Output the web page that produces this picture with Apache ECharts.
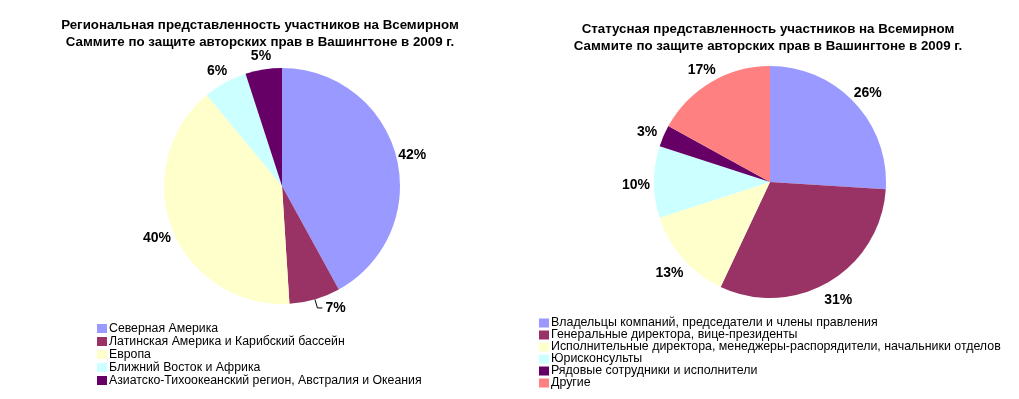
<!DOCTYPE html>
<html>
<head>
<meta charset="utf-8">
<script src="https://cdn.jsdelivr.net/npm/echarts@6/dist/echarts.min.js"></script>
<style>
  html, body { margin: 0; padding: 0; background: #fff; }
  #chart { width: 1019px; height: 399px; }
</style>
</head>
<body>
<div id="chart"></div>
<script>
// regional split (left pie)
const regionNames = [
	"Северная Америка",
	"Латинская Америка и Карибский бассейн",
	"Европа",
	"Ближний Восток и Африка",
	"Азиатско-Тихоокеанский регион, Австралия и Океания",
]
const regionValues = [42, 7, 40, 6, 5]

// status split (right pie)
const statusNames = [
	"Владельцы компаний, председатели и члены правления",
	"Генеральные директора, вице-президенты",
	"Исполнительные директора, менеджеры-распорядители, начальники отделов",
	"Юрисконсульты",
	"Рядовые сотрудники и исполнители",
	"Другие",
]
const statusValues = [26, 31, 13, 10, 3, 17]

const palette = ["#9999FF", "#993366", "#FFFFCC", "#CCFFFF", "#660066", "#FF8080"]
const font = "'Liberation Sans', Arial, sans-serif"

const chartInstance = echarts.init(document.getElementById("chart"))

// the one label that Excel pulled out with a leader line
const leaderIndex = 1

const mainData = (names, values, withLeader) =>
	names.map((n, i) => {
		let item = { name: n, value: values[i], itemStyle: { color: palette[i] } }
		if (withLeader && i === leaderIndex) {
			item.label = { show: true }
			item.labelLine = { show: true }
		}
		return item
	})

const labelData = (names, values, withLeader) =>
	names.map((n, i) => {
		let item = { name: n, value: values[i] }
		if (withLeader && i === leaderIndex) item.label = { show: false }
		return item
	})

const pieBase = (center, r, names, values, withLeader) => ({
	type: "pie",
	center: center,
	radius: r,
	startAngle: 90,
	clockwise: true,
	avoidLabelOverlap: false,
	silent: true,
	emphasis: { disabled: true },
	itemStyle: { borderWidth: 0 },
	label: {
		show: false,
		position: "outside",
		formatter: "{c}%",
		fontFamily: font,
		fontSize: 14,
		fontWeight: "bold",
		color: "#000",
		distanceToLabelLine: 3,
	},
	labelLine: {
		show: false,
		length: 9,
		length2: 5,
		smooth: false,
		lineStyle: { color: "#000", width: 1 },
	},
	data: mainData(names, values, withLeader),
})

// transparent ring that only carries the percentage labels
const labelRing = (center, r0, r1, names, values, withLeader) => ({
	type: "pie",
	center: center,
	radius: [r0, r1],
	startAngle: 90,
	clockwise: true,
	silent: true,
	emphasis: { disabled: true },
	itemStyle: { color: "rgba(0,0,0,0)", borderWidth: 0 },
	label: {
		show: true,
		position: "inside",
		formatter: "{c}%",
		fontFamily: font,
		fontSize: 14,
		fontWeight: "bold",
		color: "#000",
		offset: [0, 3],
	},
	labelLine: { show: false },
	data: labelData(names, values, withLeader),
})

const titleStyle = {
	fontFamily: font,
	fontSize: 13.3,
	fontWeight: "bold",
	color: "#000",
	lineHeight: 17,
}

const legendBase = {
	orient: "vertical",
	icon: "rect",
	itemWidth: 10,
	itemHeight: 9,
	itemGap: 0,
	padding: 0,
	selectedMode: false,
}

let options = {
	animation: false,
	backgroundColor: "#fff",
	title: [
		{
			text: "Региональная представленность участников на Всемирном\nСаммите по защите авторских прав в Вашингтоне в 2009 г.",
			left: 260,
			top: 17,
			textAlign: "center",
			padding: 0,
			textStyle: titleStyle,
		},
		{
			text: "Статусная представленность участников на Всемирном\nСаммите по защите авторских прав в Вашингтоне в 2009 г.",
			left: 768,
			top: 21,
			textAlign: "center",
			padding: 0,
			textStyle: titleStyle,
		},
	],
	legend: [
		{
			...legendBase,
			left: 97,
			top: 322,
			data: regionNames,
			textStyle: { fontFamily: font, fontSize: 12.3, color: "#000", lineHeight: 13, padding: [0, 0, 0, -3] },
		},
		{
			...legendBase,
			left: 539,
			top: 317,
			data: statusNames,
			textStyle: { fontFamily: font, fontSize: 12.4, color: "#000", lineHeight: 12, padding: [0, 0, 0, -3] },
		},
	],
	series: [
		pieBase([282, 186], 118, regionNames, regionValues, true),
		pieBase([770, 182], 116, statusNames, statusValues, false),
		labelRing([282, 186], 122, 141, regionNames, regionValues, true),
		labelRing([770, 182], 121, 141, statusNames, statusValues, false),
	],
}

chartInstance.setOption(options)
</script>
</body>
</html>
